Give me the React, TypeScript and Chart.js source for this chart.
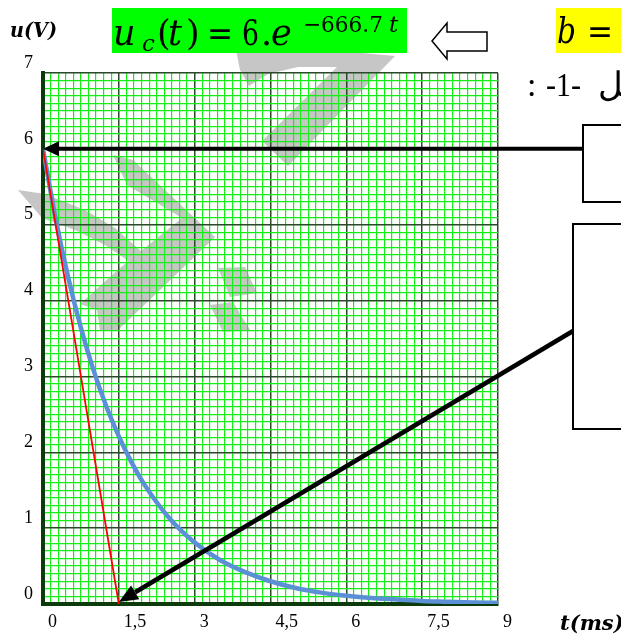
import React, { useEffect, useRef } from 'react';
import { Chart, registerables } from 'chart.js';

Chart.register(...registerables);

// ---- data ----
const curveT = [0, 0.25, 0.5, 0.75, 1, 1.25, 1.5, 1.75, 2, 2.5, 3, 3.5, 4, 4.5, 5, 5.5, 6, 6.5, 7, 7.5, 8, 8.5, 9];
const curveU = [6, 5.08, 4.3, 3.64, 3.08, 2.61, 2.21, 1.87, 1.58, 1.13, 0.81, 0.58, 0.42, 0.3, 0.21, 0.15, 0.11, 0.08, 0.06, 0.04, 0.03, 0.02, 0.015];
const tangentT = [0, 1.5];
const tangentU = [6, 0];
const xTickValues = [0, 1.5, 3, 4.5, 6, 7.5, 9];
const xTickLabels = ['0', '1,5', '3', '4,5', '6', '7,5', '9'];
const yTickValues = [0, 1, 2, 3, 4, 5, 6, 7];
const yTickLabels = ['0', '1', '2', '3', '4', '5', '6', '7'];
const xMinorStep = 0.15;
const yMinorStep = 0.1;
const xMajorStep = 1.5;
const yMajorStep = 1;
const arrow1Target = { t: 0, u: 6 };
const arrow2Target = { t: 1.5, u: 0 };

const SERIF = '"Liberation Serif", "Times New Roman", serif';
const MATH = '"DejaVu Serif", serif';

function labelFor(values: number[], labels: string[], v: number): string {
  for (let i = 0; i < values.length; i++) {
    if (Math.abs(values[i] - v) < 1e-6) return labels[i];
  }
  return '';
}

function isMajor(v: number, step: number) {
  const r = v / step;
  return Math.abs(r - Math.round(r)) < 1e-6;
}

function makeGridColor(step: number) {
  return (ctx: any) => {
    const v = ctx.tick ? ctx.tick.value : 0;
    return isMajor(v, step) ? '#2a482a' : '#14ee14';
  };
}

function makeGridWidth(step: number) {
  return (ctx: any) => {
    const v = ctx.tick ? ctx.tick.value : 0;
    return isMajor(v, step) ? 1.5 : 1.2;
  };
}

function poly(ctx: CanvasRenderingContext2D, pts: number[][]) {
  ctx.beginPath();
  ctx.moveTo(pts[0][0], pts[0][1]);
  for (let i = 1; i < pts.length; i++) ctx.lineTo(pts[i][0], pts[i][1]);
  ctx.closePath();
  ctx.fill();
}

function drawArrow(ctx: CanvasRenderingContext2D, x1: number, y1: number, x2: number, y2: number, lw: number, headLen: number, headHalf: number) {
  const a = Math.atan2(y2 - y1, x2 - x1);
  const bx = x2 - headLen * Math.cos(a);
  const by = y2 - headLen * Math.sin(a);
  ctx.save();
  ctx.strokeStyle = '#000';
  ctx.fillStyle = '#000';
  ctx.lineWidth = lw;
  ctx.beginPath();
  ctx.moveTo(x1, y1);
  ctx.lineTo(bx, by);
  ctx.stroke();
  ctx.beginPath();
  ctx.moveTo(x2, y2);
  ctx.lineTo(bx + headHalf * Math.sin(a), by - headHalf * Math.cos(a));
  ctx.lineTo(bx - headHalf * Math.sin(a), by + headHalf * Math.cos(a));
  ctx.closePath();
  ctx.fill();
  ctx.restore();
}

function txt(ctx: CanvasRenderingContext2D, s: string, x: number, y: number, font: string, maxW?: number) {
  ctx.font = font;
  if (maxW) ctx.fillText(s, x, y, maxW);
  else ctx.fillText(s, x, y);
}

const overlayPlugin = {
  id: 'overlay',
  beforeDraw(chart: any) {
    const ctx: CanvasRenderingContext2D = chart.ctx;
    ctx.save();
    ctx.fillStyle = '#c6c6c6';
    // watermark shapes
    poly(ctx, [[236, 50], [330, 50], [395, 56], [288, 166], [262, 141], [337, 67], [298, 67], [268, 74], [249, 86], [240, 70]]);
    poly(ctx, [[18, 190], [45, 194], [85, 210], [115, 228], [143, 253], [147, 262], [133, 264], [105, 245], [75, 230], [42, 218]]);
    poly(ctx, [[113, 155], [133, 160], [215, 237], [205, 246], [182, 218], [127, 185]]);
    poly(ctx, [[182, 218], [215, 237], [160, 290], [118, 330], [100, 331], [97, 310], [80, 304], [120, 268]]);
    poly(ctx, [[218, 268], [245, 267], [257, 293], [230, 297]]);
    poly(ctx, [[210, 305], [233, 302], [250, 330], [223, 332]]);
    ctx.restore();
  },
  afterDraw(chart: any) {
    const ctx: CanvasRenderingContext2D = chart.ctx;
    const xs = chart.scales.x;
    const ys = chart.scales.y;
    ctx.save();
    ctx.textAlign = 'left';
    ctx.textBaseline = 'alphabetic';

    // formula box
    ctx.fillStyle = '#00ff00';
    ctx.fillRect(112, 8, 295, 45);
    ctx.fillStyle = '#000';
    txt(ctx, 'u', 113, 45, `italic 35px ${MATH}`, 26);
    txt(ctx, 'c', 142, 51, `italic 23px ${MATH}`, 14);
    txt(ctx, '(', 157, 45, `35px ${MATH}`);
    txt(ctx, 't', 168, 45, `italic 35px ${MATH}`, 16);
    txt(ctx, ')', 186, 45, `35px ${MATH}`);
    txt(ctx, '=', 207, 45, `35px ${MATH}`, 26);
    txt(ctx, '6', 242, 45, `35px ${MATH}`, 17);
    txt(ctx, '.', 261, 45, `35px ${MATH}`);
    txt(ctx, 'e', 271, 45, `italic 35px ${MATH}`, 29);
    txt(ctx, '\u2212666.7', 303, 32, `23px ${MATH}`, 80);
    txt(ctx, 't', 389, 32, `italic 23px ${MATH}`, 13);

    // hollow arrow
    ctx.fillStyle = '#fff';
    ctx.strokeStyle = '#000';
    ctx.lineWidth = 1.5;
    ctx.beginPath();
    ctx.moveTo(432, 41);
    ctx.lineTo(447, 23);
    ctx.lineTo(447, 32);
    ctx.lineTo(487, 32);
    ctx.lineTo(487, 51);
    ctx.lineTo(447, 51);
    ctx.lineTo(447, 59);
    ctx.closePath();
    ctx.fill();
    ctx.stroke();

    // yellow box
    ctx.fillStyle = '#ffff00';
    ctx.fillRect(556, 8, 70, 45);
    ctx.fillStyle = '#000';
    txt(ctx, 'b', 557, 43, `italic 35px ${MATH}`, 19);
    txt(ctx, '=', 587, 43, `35px ${MATH}`, 26);

    // arabic caption
    txt(ctx, ':', 527, 96, `34px ${SERIF}`);
    txt(ctx, '-1-', 546, 96, `34px ${SERIF}`, 35);
    ctx.direction = 'rtl';
    ctx.textAlign = 'left';
    txt(ctx, '\u0627\u0644\u0634\u0643\u0644', 598, 96, `34px ${SERIF}`);
    ctx.direction = 'ltr';

    // boxes
    ctx.strokeStyle = '#000';
    ctx.lineWidth = 2;
    ctx.strokeRect(583, 125, 60, 77);
    ctx.strokeRect(573, 224, 70, 205);

    // arrows
    const t1x = xs.getPixelForValue(arrow1Target.t);
    const t1y = ys.getPixelForValue(arrow1Target.u);
    drawArrow(ctx, 583, t1y, t1x, t1y, 4, 16, 7.5);
    const t2x = xs.getPixelForValue(arrow2Target.t);
    const t2y = ys.getPixelForValue(arrow2Target.u) - 2;
    drawArrow(ctx, 573, 331, t2x, t2y, 4.5, 19, 8);

    // axis titles
    ctx.fillStyle = '#000';
    ctx.textAlign = 'left';
    txt(ctx, 'u(V)', 10, 37, `bold italic 20px ${MATH}`, 47);
    txt(ctx, 't(ms)', 560, 630, `bold italic 21px ${MATH}`);
    ctx.restore();
  },
};

export default function App() {
  const ref = useRef<HTMLCanvasElement | null>(null);

  useEffect(() => {
    document.body.style.margin = '0';
    document.body.style.background = '#fff';
    const canvas = ref.current;
    if (!canvas) return;
    const chart = new Chart(canvas, {
      type: 'line',
      data: {
        datasets: [
          {
            label: 'tangent',
            data: tangentT.map((t, i) => ({ x: t, y: tangentU[i] })),
            borderColor: '#ff0000',
            borderWidth: 1.8,
            pointRadius: 0,
            order: 0,
          },
          {
            label: 'uc',
            data: curveT.map((t, i) => ({ x: t, y: curveU[i] })),
            borderColor: '#5b8fd6',
            borderWidth: 4.5,
            pointRadius: 0,
            cubicInterpolationMode: 'monotone',
            order: 1,
          },
        ],
      },
      options: {
        animation: false,
        responsive: false,
        maintainAspectRatio: false,
        devicePixelRatio: 1,
        layout: { padding: { top: 73, right: 123, left: 0, bottom: 0 } },
        plugins: { legend: { display: false }, tooltip: { enabled: false }, title: { display: false } },
        scales: {
          x: {
            type: 'linear',
            position: 'bottom',
            min: 0,
            max: 9,
            afterFit: (s: any) => { s.height = 33; },
            ticks: {
              stepSize: xMinorStep,
              autoSkip: false,
              maxRotation: 0,
              minRotation: 0,
              align: 'start',
              labelOffset: 5,
              padding: 7,
              color: '#000',
              font: { family: SERIF, size: 18 },
              callback: (v: any) => labelFor(xTickValues, xTickLabels, Number(v)),
            },
            grid: { color: makeGridColor(xMajorStep), lineWidth: makeGridWidth(xMajorStep), drawTicks: false },
            border: { color: '#0b3b0b', width: 4 },
          },
          y: {
            type: 'linear',
            position: 'left',
            min: 0,
            max: 7,
            afterFit: (s: any) => { s.width = 43; },
            ticks: {
              stepSize: yMinorStep,
              autoSkip: false,
              padding: 10,
              labelOffset: -10,
              color: '#000',
              font: { family: SERIF, size: 18 },
              callback: (v: any) => labelFor(yTickValues, yTickLabels, Number(v)),
            },
            grid: { color: makeGridColor(yMajorStep), lineWidth: makeGridWidth(yMajorStep), drawTicks: false },
            border: { color: '#0b3b0b', width: 4 },
          },
        },
      },
      plugins: [overlayPlugin],
    } as any);
    return () => chart.destroy();
  }, []);

  return (
    <div style={{ position: 'relative', width: 621, height: 637, overflow: 'hidden' }}>
      <canvas ref={ref} width={621} height={637} style={{ display: 'block', width: 621, height: 637 }} />
    </div>
  );
}
